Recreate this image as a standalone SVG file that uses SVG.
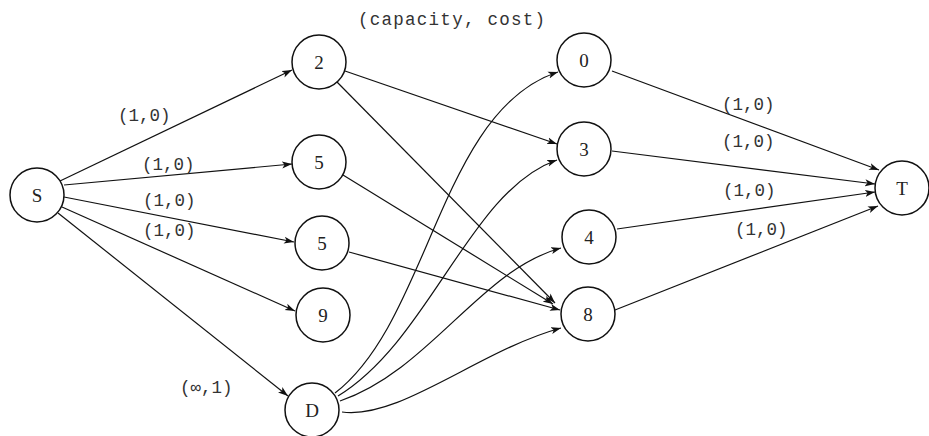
<svg xmlns="http://www.w3.org/2000/svg" width="929" height="436" viewBox="0 0 929 436">
<style>
.n{fill:#fff;stroke:#111;stroke-width:1.5}
.nl{font-family:"Liberation Serif",serif;font-size:19px;fill:#222;text-anchor:middle;dominant-baseline:central}
.e{fill:none;stroke:#111;stroke-width:1.2}
.lb{font-family:"Liberation Mono",monospace;font-size:17.5px;fill:#333}
</style>
<defs>
<marker id="ah" viewBox="0 0 10 8" refX="10" refY="4" markerWidth="10" markerHeight="8" markerUnits="userSpaceOnUse" orient="auto">
<path d="M0,0.5 L10,4 L0,7.5 L2.5,4 z" fill="#111"/>
</marker>
</defs>
<g id="connectors">
<line class="e" x1="60" y1="181" x2="292" y2="70" marker-end="url(#ah)"/>
<line class="e" x1="64" y1="185" x2="292" y2="164" marker-end="url(#ah)"/>
<line class="e" x1="64" y1="197" x2="294" y2="242" marker-end="url(#ah)"/>
<line class="e" x1="62" y1="207" x2="295" y2="311" marker-end="url(#ah)"/>
<line class="e" x1="58" y1="213" x2="288" y2="396" marker-end="url(#ah)"/>
<line class="e" x1="345" y1="71" x2="557" y2="144" marker-end="url(#ah)"/>
<line class="e" x1="337" y1="82" x2="555" y2="303" marker-end="url(#ah)"/>
<line class="e" x1="343" y1="175" x2="553" y2="304" marker-end="url(#ah)"/>
<line class="e" x1="349" y1="252" x2="560" y2="310" marker-end="url(#ah)"/>
<path class="e" d="M335,393 C430,320 440,110 558,72" marker-end="url(#ah)"/>
<path class="e" d="M338,396 C430,340 470,190 557,160" marker-end="url(#ah)"/>
<path class="e" d="M340,401 C430,370 480,270 561,248" marker-end="url(#ah)"/>
<path class="e" d="M342,412 C400,420 480,350 561,328" marker-end="url(#ah)"/>
<line class="e" x1="612" y1="71" x2="879" y2="170" marker-end="url(#ah)"/>
<line class="e" x1="612" y1="151" x2="875" y2="184" marker-end="url(#ah)"/>
<line class="e" x1="617" y1="229" x2="875" y2="192" marker-end="url(#ah)"/>
<line class="e" x1="615" y1="310" x2="878" y2="206" marker-end="url(#ah)"/>
</g>
<g id="labels">
<text class="lb" x="358" y="25" textLength="187">(capacity, cost)</text>
<text class="lb" x="118" y="121">(1,0)</text>
<text class="lb" x="142" y="170">(1,0)</text>
<text class="lb" x="143" y="206">(1,0)</text>
<text class="lb" x="143" y="236">(1,0)</text>
<text class="lb" x="180" y="393">(∞,1)</text>
<text class="lb" x="722" y="110">(1,0)</text>
<text class="lb" x="722" y="147">(1,0)</text>
<text class="lb" x="723" y="196">(1,0)</text>
<text class="lb" x="735" y="235">(1,0)</text>
</g>
<g id="node-S"><circle class="n" cx="37" cy="195" r="27"/><text class="nl" x="37" y="195">S</text></g>
<g id="node-2"><circle class="n" cx="319" cy="62" r="27"/><text class="nl" x="319" y="62">2</text></g>
<g id="node-5a"><circle class="n" cx="319" cy="162" r="27"/><text class="nl" x="319" y="162">5</text></g>
<g id="node-5b"><circle class="n" cx="322" cy="243" r="27"/><text class="nl" x="322" y="243">5</text></g>
<g id="node-9"><circle class="n" cx="323" cy="315" r="27"/><text class="nl" x="323" y="315">9</text></g>
<g id="node-D"><circle class="n" cx="312" cy="410" r="27"/><text class="nl" x="312" y="410">D</text></g>
<g id="node-0"><circle class="n" cx="584" cy="60" r="27"/><text class="nl" x="584" y="60">0</text></g>
<g id="node-3"><circle class="n" cx="584" cy="149" r="27"/><text class="nl" x="584" y="149">3</text></g>
<g id="node-4"><circle class="n" cx="589" cy="237" r="27"/><text class="nl" x="589" y="237">4</text></g>
<g id="node-8"><circle class="n" cx="588" cy="314" r="27"/><text class="nl" x="588" y="314">8</text></g>
<g id="node-T"><circle class="n" cx="902" cy="188" r="27"/><text class="nl" x="902" y="188">T</text></g>
</svg>
